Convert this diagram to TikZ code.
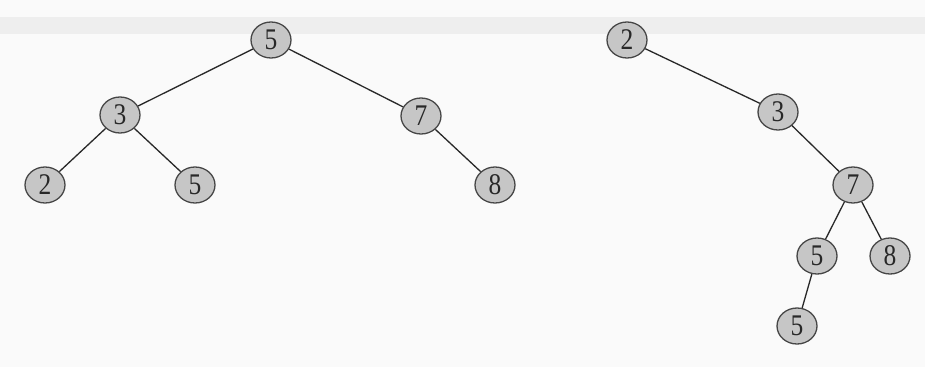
\documentclass[tikz,border=0pt]{standalone}
\usepackage{fontspec}
\setmainfont{Liberation Serif}
\newfontfamily\keyfont[FakeStretch=0.85]{Liberation Serif}
\usetikzlibrary{shapes.geometric}
\definecolor{paper}{RGB}{250,250,250}
\definecolor{band}{RGB}{238,238,238}
\definecolor{keyfill}{RGB}{198,198,198}
\definecolor{rim}{RGB}{70,70,70}
\definecolor{ink}{RGB}{40,40,40}
\tikzset{
  key/.style={ellipse, draw=rim, line width=1.3pt, fill=keyfill,
    minimum width=40pt, minimum height=36pt, inner sep=0pt,
    text=ink, font=\keyfont\fontsize{30}{30}\selectfont},
  link/.style={draw=ink, line width=1.3pt}
}
\begin{document}
\begin{tikzpicture}[x=1pt,y=-1pt]
  % page
  \fill[paper] (0,0) rectangle (925,367);
  \fill[band] (0,17) rectangle (925,34);
  \useasboundingbox (0,0) rectangle (925,367);

  % first tree
  \node[key] (a5) at (271,40) {5};
  \node[key] (a3) at (120,115) {3};
  \node[key] (a7) at (421,116) {7};
  \node[key] (a2) at (45,185) {2};
  \node[key] (a5b) at (195,185) {5};
  \node[key] (a8) at (495,185) {8};
  \draw[link] (a5) -- (a3);
  \draw[link] (a5) -- (a7);
  \draw[link] (a3) -- (a2);
  \draw[link] (a3) -- (a5b);
  \draw[link] (a7) -- (a8);

  % second tree
  \node[key] (b2) at (627,40) {2};
  \node[key] (b3) at (778,112) {3};
  \node[key] (b7) at (853,185) {7};
  \node[key] (b5) at (817,256) {5};
  \node[key] (b8) at (890,256) {8};
  \node[key] (b5b) at (797,326) {5};
  \draw[link] (b2) -- (b3);
  \draw[link] (b3) -- (b7);
  \draw[link] (b7) -- (b5);
  \draw[link] (b7) -- (b8);
  \draw[link] (b5) -- (b5b);
\end{tikzpicture}
\end{document}
